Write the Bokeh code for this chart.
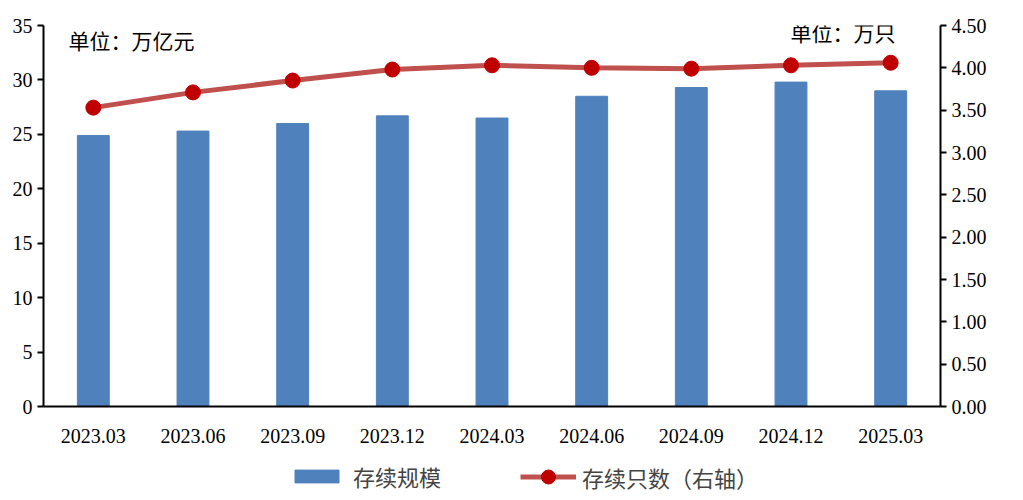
from bokeh.plotting import figure
from bokeh.layouts import column
from bokeh.models import Range1d, LinearAxis, Label, Legend, LegendItem, FixedTicker, NumeralTickFormatter
from bokeh.embed import file_html
from bokeh.resources import INLINE

# 数据
periods = ["2023.03", "2023.06", "2023.09", "2023.12", "2024.03",
           "2024.06", "2024.09", "2024.12", "2025.03"]
scale = [24.9, 25.3, 26.0, 26.7, 26.5, 28.5, 29.3, 29.8, 29.0]      # 存续规模（万亿元）
count = [3.53, 3.71, 3.85, 3.98, 4.03, 4.00, 3.99, 4.03, 4.06]      # 存续只数（万只）

num_font = "Liberation Serif"
cjk_font = "Noto Sans CJK SC"
bar_color = "#4F81BD"
line_color = "#C0504D"
dot_color = "#C00000"

p = figure(x_range=periods, y_range=Range1d(0, 35), width=1005, height=450,
           output_backend="svg", toolbar_location=None,
           min_border_left=43, min_border_right=65, min_border_top=25, min_border_bottom=44)
p.extra_y_ranges = {"right": Range1d(0, 4.5)}
p.outline_line_color = None
p.grid.grid_line_color = None

p.vbar(x=periods, top=scale, width=0.32, color=bar_color)
p.line(x=periods, y=count, y_range_name="right", line_color=line_color, line_width=5)
p.scatter(x=periods, y=count, y_range_name="right", size=15,
          fill_color=dot_color, line_color=dot_color)


def style_axis(ax):
    ax.axis_line_width = 2
    ax.axis_line_color = "black"
    ax.major_tick_line_width = 2
    ax.major_tick_out = 6
    ax.major_tick_in = 0
    ax.minor_tick_line_color = None
    ax.major_label_text_font = num_font
    ax.major_label_text_font_size = "20px"
    ax.major_label_text_color = "black"


# 左轴
ya = p.yaxis[0]
ya.ticker = FixedTicker(ticks=[0, 5, 10, 15, 20, 25, 30, 35])
style_axis(ya)

# 右轴
ra = LinearAxis(y_range_name="right")
ra.ticker = FixedTicker(ticks=[0, 0.5, 1, 1.5, 2, 2.5, 3, 3.5, 4, 4.5])
ra.formatter = NumeralTickFormatter(format="0.00")
style_axis(ra)
p.add_layout(ra, "right")

# 横轴
xa = p.xaxis[0]
style_axis(xa)
xa.major_tick_line_color = None
xa.major_label_standoff = 16

# 单位
p.add_layout(Label(x=25, y=367, x_units="screen", y_units="screen", text="单位：万亿元",
                   text_baseline="middle", text_font=cjk_font, text_font_size="21px",
                   text_color="black"))
p.add_layout(Label(x=747, y=375, x_units="screen", y_units="screen", text="单位：万只",
                   text_baseline="middle", text_font=cjk_font, text_font_size="21px",
                   text_color="black"))

# 图例（单独一行，样式渲染器放在可见范围之外）
lg = figure(width=1005, height=50, x_range=Range1d(0, 1), y_range=Range1d(0, 1),
            x_axis_type=None, y_axis_type=None, output_backend="svg",
            toolbar_location=None, min_border=0)
lg.outline_line_color = None
lg.grid.grid_line_color = None
hidden_x = [-5, -4]
hidden_y = [-5, -5]
r_bar = lg.vbar(x=hidden_x, top=hidden_y, width=0.3, color=bar_color)
r_line = lg.line(x=hidden_x, y=hidden_y, line_color=line_color, line_width=5)
r_dot = lg.scatter(x=hidden_x, y=hidden_y, size=13, fill_color=dot_color, line_color=dot_color)

legend_style = dict(orientation="horizontal", label_text_font=cjk_font,
                    label_text_font_size="22px", background_fill_alpha=0,
                    border_line_color=None, margin=0, padding=4)
lg.add_layout(Legend(items=[LegendItem(label="存续规模", renderers=[r_bar])],
                     location=(246, 8), label_standoff=9, glyph_width=55, glyph_height=16,
                     **legend_style), "center")
lg.add_layout(Legend(items=[LegendItem(label="存续只数（右轴）", renderers=[r_line, r_dot])],
                     location=(477, 6), label_standoff=6, glyph_width=56, glyph_height=35,
                     **legend_style), "center")

open("out.html", "w").write(file_html(column(p, lg, spacing=0), INLINE))
